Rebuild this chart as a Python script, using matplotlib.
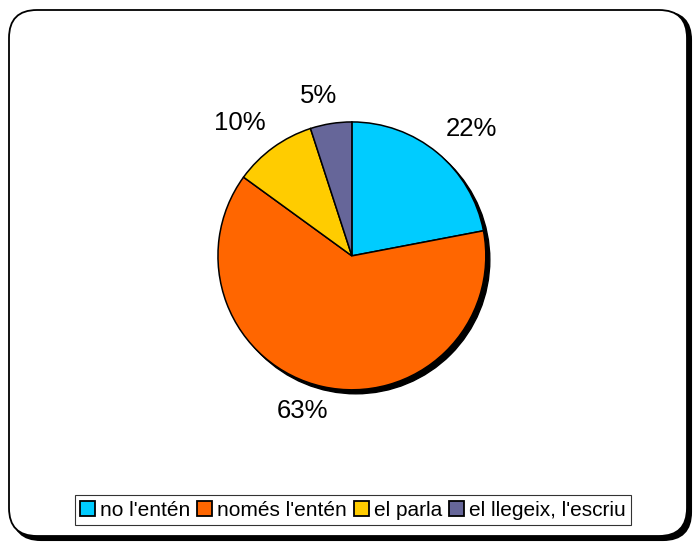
import matplotlib.pyplot as plt
import matplotlib.transforms as mtransforms
from matplotlib.patches import FancyBboxPatch, Circle, Patch

labels = ["no l'entén", "només l'entén", "el parla", "el llegeix, l'escriu"]
values = [22, 63, 10, 5]
colors = ["#00CCFF", "#FF6600", "#FFCC00", "#666699"]

# where the percentage labels sit, in pie-radius units
label_pos = [(0.89, 0.95), (-0.37, -1.16), (-0.84, 0.99), (-0.25, 1.19)]

plt.rcParams['font.family'] = ['Liberation Sans', 'DejaVu Sans']

fig = plt.figure(figsize=(7, 5.45), dpi=100)

# rounded chart border with a drop shadow
shadow = FancyBboxPatch((13 / 700, 5 / 545), 678 / 700, 528 / 545,
                        boxstyle="round,pad=0,rounding_size=0.04",
                        transform=fig.transFigure, facecolor="black",
                        edgecolor="black", linewidth=1.5, zorder=0,
                        mutation_aspect=700 / 545)
border = FancyBboxPatch((9 / 700, 9 / 545), 678 / 700, 526 / 545,
                        boxstyle="round,pad=0,rounding_size=0.04",
                        transform=fig.transFigure, facecolor="white",
                        edgecolor="black", linewidth=1.3, zorder=1,
                        mutation_aspect=700 / 545)
fig.patches.extend([shadow, border])

ax = fig.add_axes([0.2157, 0.1615, 0.574, 0.738])
ax.set_zorder(2)
ax.patch.set_visible(False)

# black pie shadow
off = mtransforms.offset_copy(ax.transData, fig=fig, x=4, y=-4, units='dots')
ax.add_patch(Circle((0, 0), 1, facecolor="black", edgecolor="black",
                    transform=off, zorder=0))

wedges, texts, autotexts = ax.pie(
    values, colors=colors, startangle=90, counterclock=False, radius=1,
    autopct=lambda p: "%d%%" % round(p), pctdistance=1.25,
    wedgeprops=dict(edgecolor="black", linewidth=1.1),
    textprops=dict(fontsize=18.5, color="black"))
for w in wedges:
    w.set_zorder(1)
for t, pos in zip(autotexts, label_pos):
    t.set_position(pos)

ax.set_xlim(-1.5, 1.5)
ax.set_ylim(-1.5, 1.5)
ax.set_aspect('equal')
ax.axis('off')

handles = [Patch(facecolor=c, edgecolor="black", linewidth=1.3) for c in colors]
leg = fig.legend(handles, labels, loc='center', ncol=4,
                 bbox_to_anchor=(353 / 700, 1 - 510 / 545), fontsize=15,
                 frameon=True, fancybox=False, handlelength=0.7,
                 handleheight=0.7, handletextpad=0.25, columnspacing=0.35,
                 borderpad=0.25, borderaxespad=0)
leg.get_frame().set_edgecolor("black")
leg.get_frame().set_linewidth(0.8)
leg.set_zorder(3)

fig.savefig("out.png", dpi=100)
